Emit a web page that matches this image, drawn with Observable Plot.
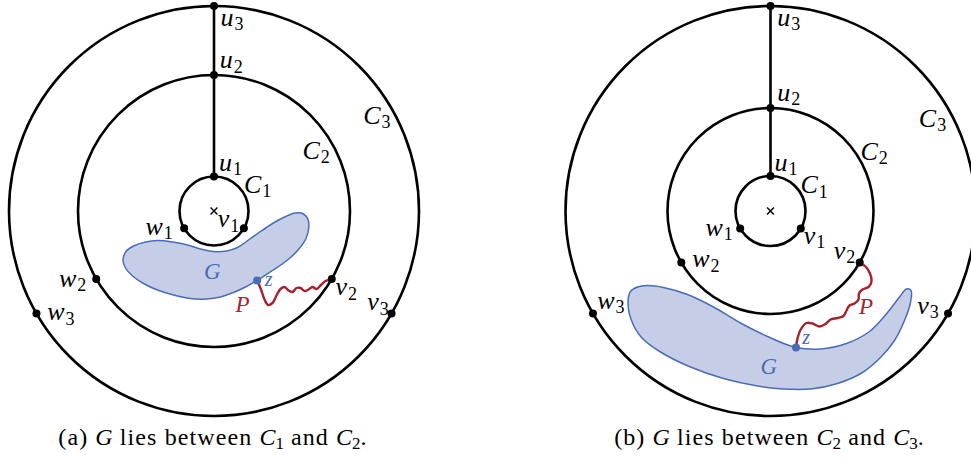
<!DOCTYPE html>
<html>
<head>
<meta charset="utf-8">
<script src="https://cdn.jsdelivr.net/npm/d3@7"></script>
<script src="https://cdn.jsdelivr.net/npm/@observablehq/plot@0.6"></script>
<style>
  html, body { margin: 0; padding: 0; background: #fff; }
  #wrap { position: relative; width: 971px; height: 458px; overflow: hidden; }
  .cap { position: absolute; top: 425px; transform: translateX(-50%); white-space: nowrap;
         font-family: "Liberation Serif", "Times New Roman", Times, serif;
         font-size: 24px; letter-spacing: 1.1px; line-height: 24px; color: #000; }
  .cap i { letter-spacing: 0; }
  .cap .s { font-size: 17px; position: relative; top: 4px; letter-spacing: 0; }
</style>
</head>
<body>
<div id="wrap">
  <div id="chart"></div>
  <div class="cap" id="capA"></div>
  <div class="cap" id="capB"></div>
</div>
<script>
// ---------- data ----------
const panelIds = ["a", "b"];
const centerXs = [213.5, 770];
const centerYs = [210.5, 210.5];
const ringRadiiA = [34.5, 136, 205];
const ringRadiiB = [35, 103, 205];
const nodeLetters = ["u", "w", "v"];
const nodeAngles = [90, 210, 330]; // degrees, counter-clockwise from east

const captionTexts = [
  ["(a)", "G", "lies between", "C", "1", "and", "C", "2"],
  ["(b)", "G", "lies between", "C", "2", "and", "C", "3"]
];

// labels: [panel, letter, subscript, offset from panel centre]
const labelPanel  = ["a","a","a","a","a","a","a","a","a","a","a","a", "b","b","b","b","b","b","b","b","b","b","b","b"];
const labelLetter = ["u","u","u","C","C","C","w","v","w","v","v","w", "u","u","u","C","C","C","w","v","w","v","w","v"];
const labelSub    = ["3","2","1","1","2","3","1","1","2","2","3","3", "3","2","1","1","2","3","1","1","2","2","3","3"];
const labelDX = [6.5, 5.8, 5, 30, 88.5, 149.2, -68.5, 3.8, -155, 121.5, 153.2, -166.8,
                 6.7, 6.7, 4, 30, 90, 148.3, -65, 33.3, -78.3, 63.3, -173.3, 146.7];
const labelDY = [-185.5, -143, -40.5, -18.5, -52.5, -87.2, 23.5, 16.2, 75.5, 84, 99, 109,
                 -185.5, -110.5, -40.5, -17.8, -51.2, -84.5, 24.5, 32.8, 56.2, 47.8, 97.8, 102.8];

// region G outline, path P and point z
const blobA = [[122.5,260],[125.5,251],[133,245.5],[145,241.5],[157,240],[172,241.5],[187,244.5],[200,248.5],[213,251],[226,250.5],[237,247],[248,239.5],[260,231],[272,223],[284,216.5],[295,212.5],[303,213.5],[307.5,219],[308.3,227],[305.5,238],[298,249],[287,259.5],[272,270],[256.7,280],[244,287],[233,292],[220,296.5],[206,298.5],[190,298],[173,294.5],[157,289.5],[143,283],[132,275.5],[125,267.5]];
const blobB = [[627.5,302],[630,291],[637,286.5],[647,285],[663,287],[687,294],[713,306.5],[740,322.5],[767,336],[795.5,347],[820,348.5],[846,343],[869,331],[887,312],[899,296.5],[906,288.5],[910.5,290],[910,302],[904,320],[894,340],[881,356],[862,372],[837,383],[810,388.5],[783,388.5],[757,385.5],[723,378],[690,366.5],[660,351.5],[641,337],[631,320]];
const pathA = [[256.7,280],[260.5,289],[264,299],[267.5,304.5],[272,302.5],[276,295],[280,288.5],[284,286.5],[288,290],[292,291.5],[296,287.5],[300,287.5],[304,290.5],[308,289],[312,286.5],[316,288.5],[320,285],[325,280.5],[331.7,278.3]];
const pathB = [[858.3,261.7],[865,266],[869.5,273],[871,281],[868,286.5],[862,289],[858.5,293],[858,299],[854,303],[849,305],[846,310],[843,315.5],[837,317.5],[830,319],[825,323.5],[819,326],[812,323],[806,322.5],[800.5,328.5],[797,338],[795.5,347]];
const zPoints = [[256.7,280],[795.5,347]];
// G, z, P text positions relative to panel centre
const gLabelDX = [-10, -10], gLabelDY = [67.5, 163];
const zLabelDX = [50.8, 31.7], zLabelDY = [75.2, 132.8];
const pLabelDX = [21.5, 88.5], pLabelDY = [101.2, 102.5];

// ---------- derived ----------
const W = 971, H = 425;
const BLUE = "#4a6cb4", FILL = "#c6cee7", RED = "#a8202c";
const FONT = "'Liberation Serif', 'Times New Roman', Times, serif";
const LABEL_SIZE = 26, SUB_SIZE = 18;

const rings = [], nodes = [], spokes = [], centers = [];
panelIds.forEach((p, pi) => {
  const cx = centerXs[pi], cy = centerYs[pi];
  centers.push({x: cx, y: cy});
  const radii = pi === 0 ? ringRadiiA : ringRadiiB;
  radii.forEach((r, ri) => {
    rings.push({x: cx, y: cy, r});
    nodeLetters.forEach((l, li) => {
      const t = nodeAngles[li] * Math.PI / 180;
      nodes.push({panel: p, ring: ri, letter: l, x: cx + r * Math.cos(t), y: cy - r * Math.sin(t)});
    });
  });
  const top = nodes.filter(d => d.panel === p && d.letter === "u");
  spokes.push({x1: top[0].x, y1: top[0].y, x2: top[top.length - 1].x, y2: top[top.length - 1].y});
});

const ctx = document.createElement("canvas").getContext("2d");
ctx.font = `italic ${LABEL_SIZE}px ${FONT}`;
const labels = labelPanel.map((p, i) => {
  const pi = panelIds.indexOf(p);
  const x = centerXs[pi] + labelDX[i], y = centerYs[pi] + labelDY[i];
  return {letter: labelLetter[i], sub: labelSub[i], x, y,
          sx: x + ctx.measureText(labelLetter[i]).width + 1, sy: y + 4.5};
});
const toXY = a => a.map(([x, y]) => ({x, y}));
const gLabels = panelIds.map((p, i) => ({t: "G", x: centerXs[i] + gLabelDX[i], y: centerYs[i] + gLabelDY[i]}));
const zLabels = panelIds.map((p, i) => ({t: "z", x: centerXs[i] + zLabelDX[i], y: centerYs[i] + zLabelDY[i]}));
const pLabels = panelIds.map((p, i) => ({t: "P", x: centerXs[i] + pLabelDX[i], y: centerYs[i] + pLabelDY[i]}));

const chart = Plot.plot({
  width: W, height: H, margin: 0,
  style: {background: "transparent", overflow: "visible"},
  x: {domain: [0, W], range: [0, W], axis: null},
  y: {domain: [0, H], range: [0, H], axis: null},
  r: {type: "identity"},
  marks: [
    Plot.line(toXY(blobA), {x: "x", y: "y", curve: "catmull-rom-closed", fill: FILL, stroke: BLUE, strokeWidth: 1.5}),
    Plot.line(toXY(blobB), {x: "x", y: "y", curve: "catmull-rom-closed", fill: FILL, stroke: BLUE, strokeWidth: 1.5}),
    Plot.dot(rings, {x: "x", y: "y", r: "r", stroke: "black", strokeWidth: 2.6, fill: "none"}),
    Plot.link(spokes, {x1: "x1", y1: "y1", x2: "x2", y2: "y2", stroke: "black", strokeWidth: 2.6}),
    Plot.line(toXY(pathA), {x: "x", y: "y", curve: "catmull-rom", stroke: RED, strokeWidth: 2.4}),
    Plot.line(toXY(pathB), {x: "x", y: "y", curve: "catmull-rom", stroke: RED, strokeWidth: 2.4}),
    Plot.dot(nodes, {x: "x", y: "y", r: 4, fill: "black", stroke: "none"}),
    Plot.dot(toXY(zPoints), {x: "x", y: "y", r: 4, fill: BLUE, stroke: "none"}),
    Plot.dot(centers, {x: "x", y: "y", symbol: "times", r: 3.2, stroke: "black", strokeWidth: 1.4}),
    Plot.text(labels, {x: "x", y: "y", text: "letter", textAnchor: "start", lineAnchor: "bottom",
      fontFamily: FONT, fontStyle: "italic", fontSize: LABEL_SIZE, fill: "black"}),
    Plot.text(labels, {x: "sx", y: "sy", text: "sub", textAnchor: "start", lineAnchor: "bottom",
      fontFamily: FONT, fontSize: SUB_SIZE, fill: "black"}),
    Plot.text(gLabels, {x: "x", y: "y", text: "t", textAnchor: "start", lineAnchor: "bottom",
      fontFamily: FONT, fontStyle: "italic", fontSize: 23, fill: BLUE}),
    Plot.text(zLabels, {x: "x", y: "y", text: "t", textAnchor: "start", lineAnchor: "bottom",
      fontFamily: FONT, fontStyle: "italic", fontSize: 20, fill: BLUE}),
    Plot.text(pLabels, {x: "x", y: "y", text: "t", textAnchor: "start", lineAnchor: "bottom",
      fontFamily: FONT, fontStyle: "italic", fontSize: 23, fill: RED})
  ]
});
document.getElementById("chart").appendChild(chart);

function captionHTML(parts) {
  const [tag, g, mid, c1, s1, and, c2, s2] = parts;
  return `${tag} <i>${g}</i> ${mid} <i>${c1}</i><span class="s">${s1}</span> ${and} <i>${c2}</i><span class="s">${s2}</span>.`;
}
const capA = document.getElementById("capA"), capB = document.getElementById("capB");
capA.innerHTML = captionHTML(captionTexts[0]);
capB.innerHTML = captionHTML(captionTexts[1]);
capA.style.left = (centerXs[0] - 0.5) + "px";
capB.style.left = (centerXs[1] - 0.5) + "px";
</script>
</body>
</html>
